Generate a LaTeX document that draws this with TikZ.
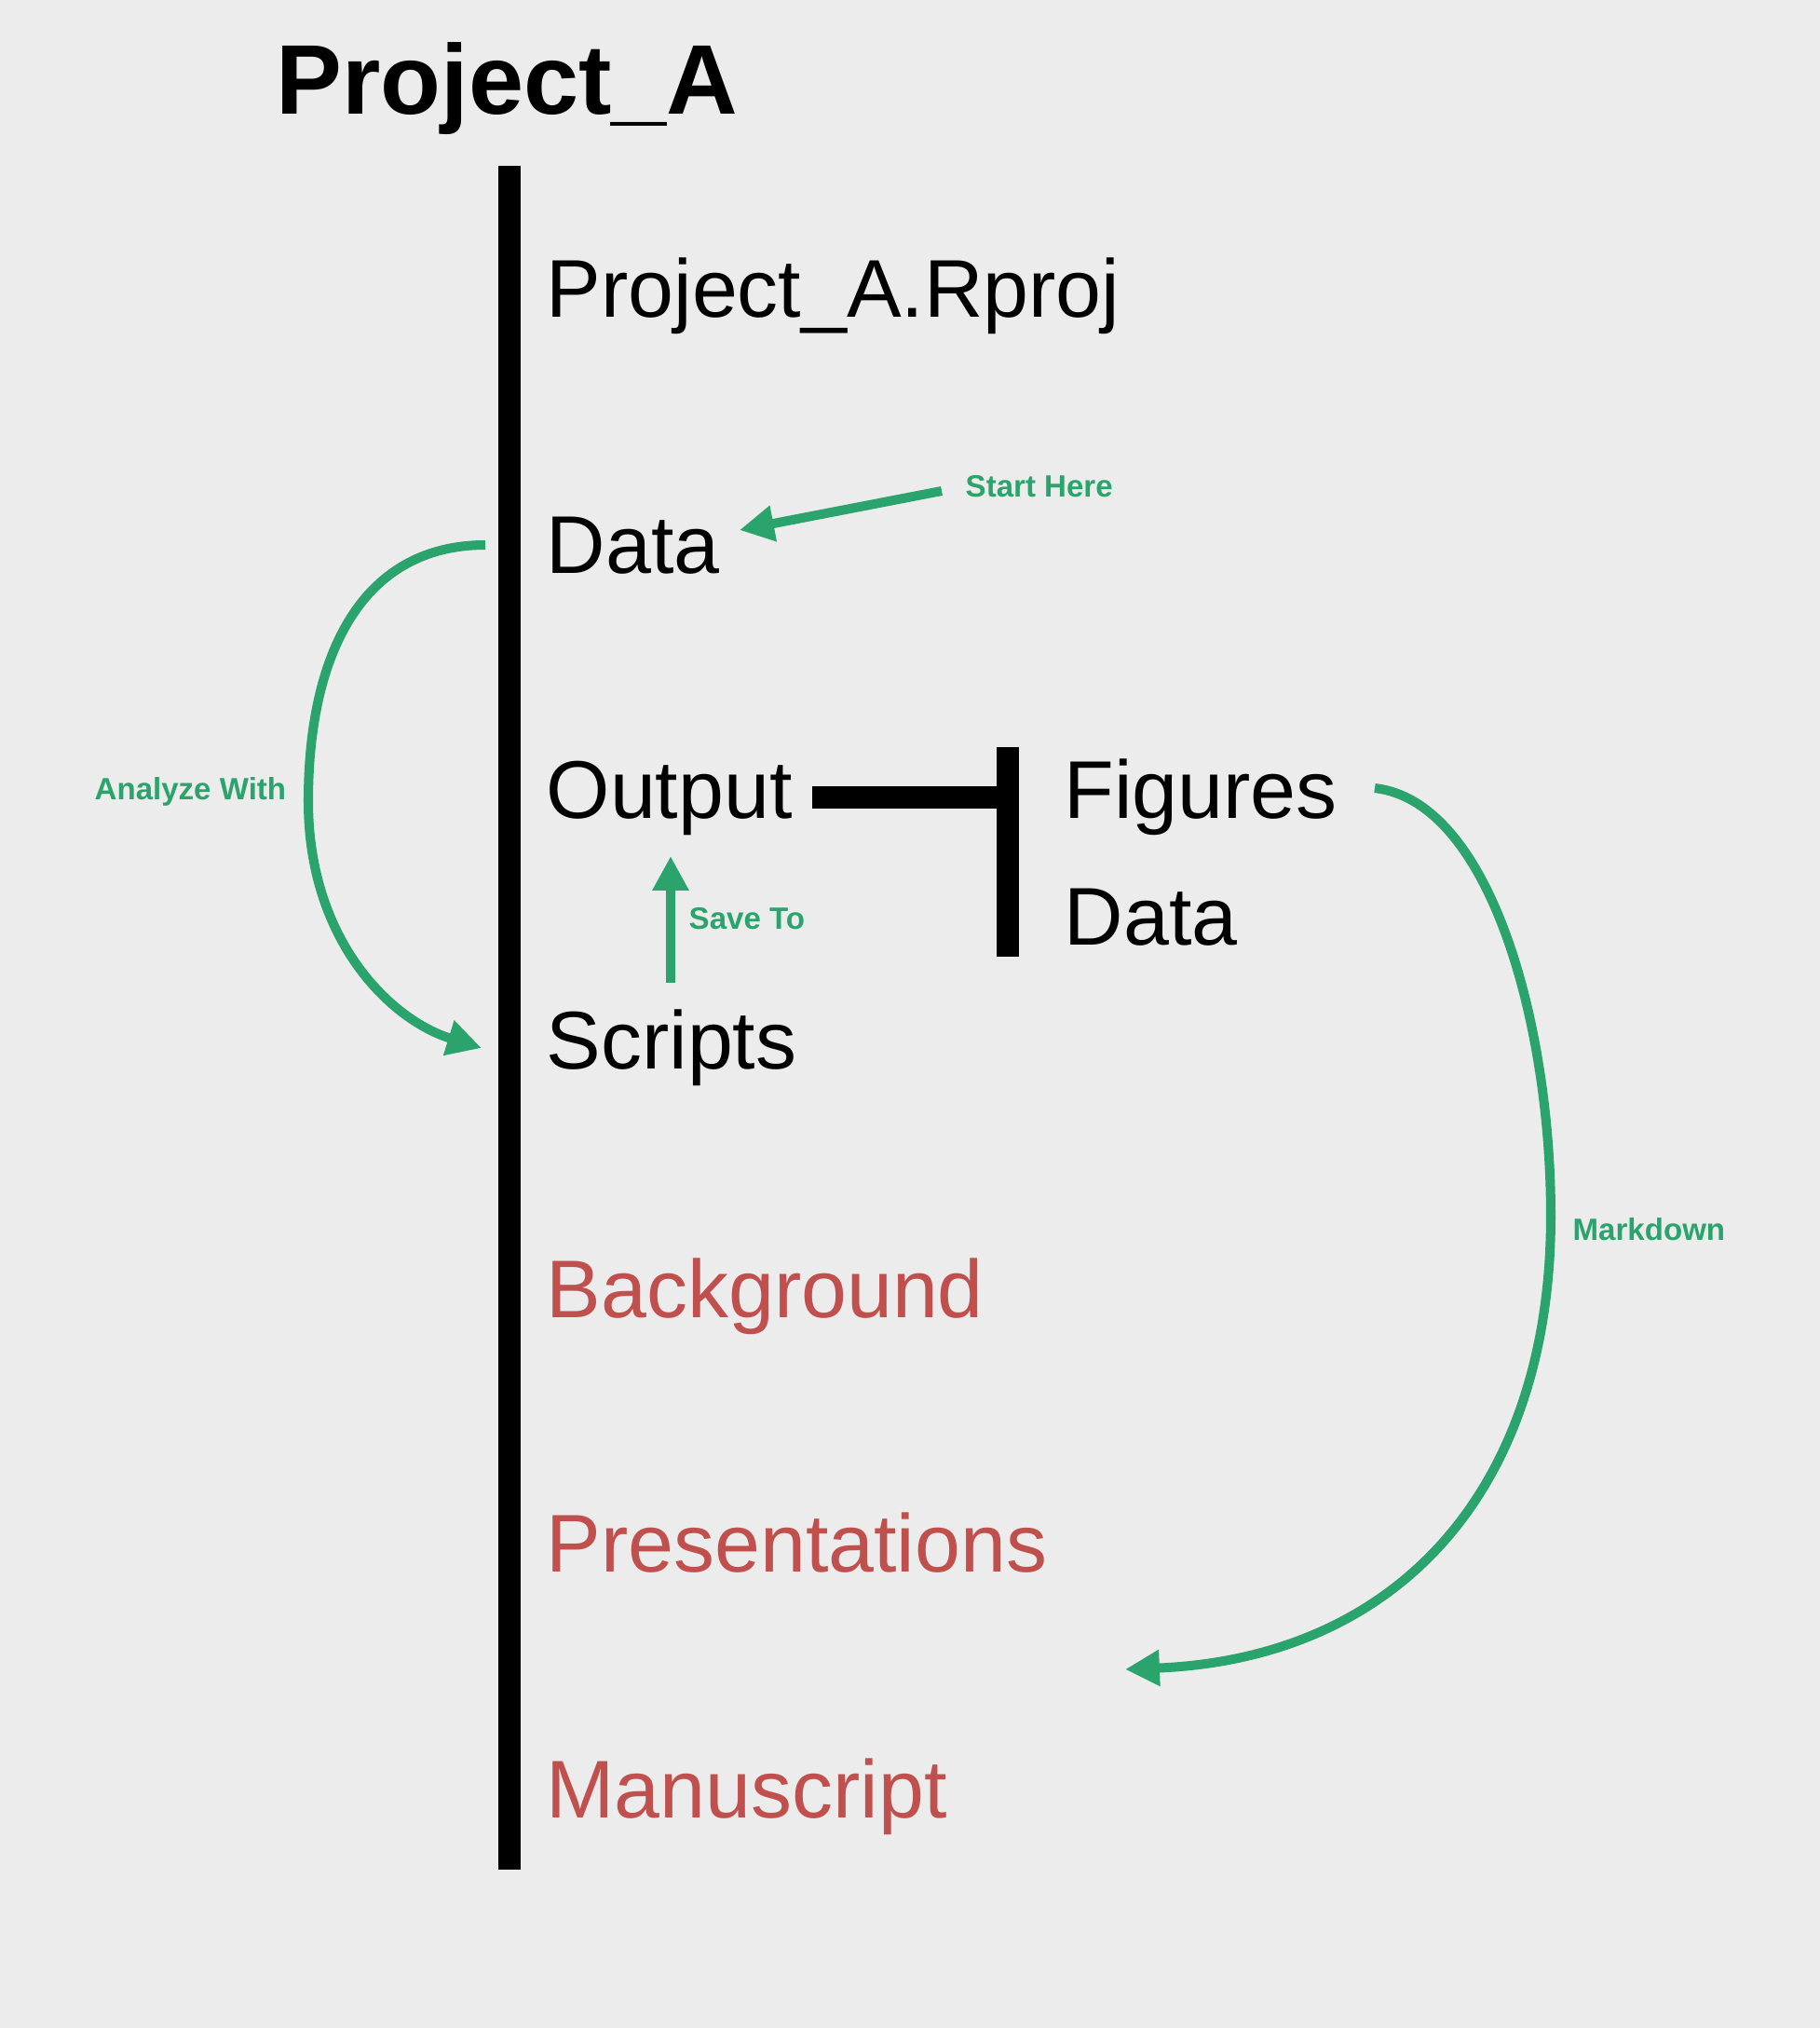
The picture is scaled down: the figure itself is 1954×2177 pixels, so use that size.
\documentclass[tikz,border=0pt]{standalone}
\usepackage{fontspec}
\setmainfont{Liberation Sans}
\usetikzlibrary{arrows.meta}
\definecolor{bg}{RGB}{236,236,236}
\definecolor{grn}{RGB}{42,163,108}
\definecolor{rd}{RGB}{192,80,77}
\tikzset{
  item/.style={anchor=base west, inner sep=0pt, font=\fontsize{25}{25}\selectfont},
  reditem/.style={item, text=rd},
  lbl/.style={anchor=base west, inner sep=0pt, text=grn, font=\fontsize{9.4}{9.4}\selectfont\bfseries},
  flow/.style={draw=grn, line width=2.85pt, -{Triangle[length=10.5pt,width=10.5pt]}},
  bar/.style={line width=7pt, black}
}
\begin{document}
\begin{tikzpicture}[x=0.01cm,y=-0.01cm]
\fill[bg] (0,0) rectangle (1954,2177);
\useasboundingbox (0,0) rectangle (1954,2177);
% title
\node[anchor=base west, inner sep=0pt, font=\fontsize{30.2}{30.2}\selectfont\bfseries] (title) at (296,122) {Project\_A};
% main bar
\coordinate (bartop) at (547,178);
\coordinate (barbot) at (547,2007);
\draw[bar] (bartop) -- (barbot);
% items
\node[item] (rproj) at (586,340) {Project\_A.Rproj};
\node[item] (data) at (586,615) {Data};
\node[item] (output) at (586,878) {Output};
\node[item] (scripts) at (586,1147) {Scripts};
\node[reditem] (background) at (586,1414) {Background};
\node[reditem] (presentations) at (586,1687) {Presentations};
\node[reditem] (manuscript) at (586,1951) {Manuscript};
\node[item] (figures) at (1142,878) {Figures};
\node[item] (data2) at (1142,1014) {Data};
% tee
\coordinate (teeL) at (872,856);
\coordinate (teeR) at (1082,856);
\coordinate (teeT) at (1082,802);
\coordinate (teeB) at (1082,1027);
\draw[bar] (teeL) -- (teeR);
\draw[bar] (teeT) -- (teeB);
% start here
\coordinate (shS) at (1011,527);
\coordinate (shE) at (794,569);
\draw[flow] (shS) -- (shE);
\node[lbl] (startlbl) at (1036,533) {Start Here};
% save to
\coordinate (stS) at (720,1055);
\coordinate (stE) at (720,919);
\draw[flow] (stS) -- (stE);
\node[lbl] (savelbl) at (739,997) {Save To};
% analyze with
\coordinate (awS) at (521,585);
\coordinate (awM) at (331,860);
\coordinate (awE) at (517,1125);
\draw[flow] (awS) .. controls (390,585) and (331,700) .. (awM) .. controls (331,1010) and (420,1095) .. (awE);
\node[lbl] (analbl) at (101,858) {Analyze With};
% markdown
\coordinate (mdS) at (1476,846);
\coordinate (mdM) at (1665,1305);
\coordinate (mdE) at (1208,1792);
\draw[flow] (mdS) .. controls (1600,860) and (1665,1100) .. (mdM) .. controls (1665,1600) and (1500,1780) .. (mdE);
\node[lbl] (mdlbl) at (1688,1331) {Markdown};
\end{tikzpicture}
\end{document}
